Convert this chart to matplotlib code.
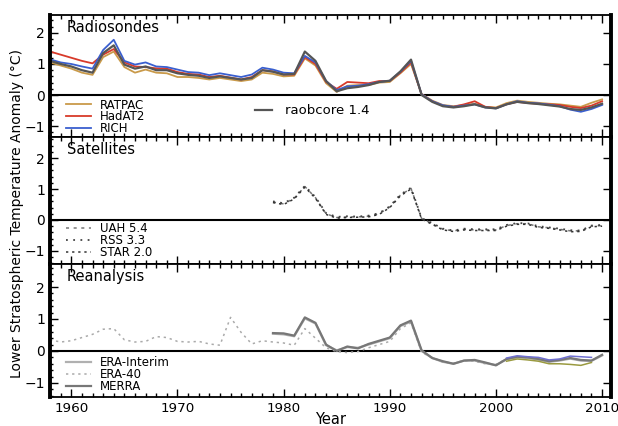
import numpy as np
import matplotlib
matplotlib.use("Agg")
import matplotlib.pyplot as plt
from matplotlib.ticker import MultipleLocator

plt.rcParams['font.family'] = ['DejaVu Sans']

# ---- data (annual anomalies, deg C) ----
years_rs = list(range(1958, 2011))
rich = [1.15, 1.05, 1.00, 0.92, 0.85, 1.45, 1.78, 1.10, 0.98, 1.05, 0.92, 0.90, 0.82,
        0.74, 0.72, 0.64, 0.70, 0.64, 0.58, 0.66, 0.88, 0.82, 0.72, 0.70, 1.26, 1.05,
        0.45, 0.16, 0.28, 0.30, 0.35, 0.42, 0.46, 0.75, 1.10, 0.02, -0.20, -0.33, -0.38,
        -0.34, -0.30, -0.40, -0.43, -0.30, -0.20, -0.25, -0.27, -0.31, -0.36, -0.47,
        -0.54, -0.45, -0.32]
hadat2 = [1.40, 1.30, 1.20, 1.10, 1.02, 1.30, 1.48, 1.05, 0.92, 0.90, 0.86, 0.85, 0.74,
          0.68, 0.66, 0.58, 0.62, 0.56, 0.50, 0.58, 0.80, 0.76, 0.66, 0.66, 1.22, 1.00,
          0.42, 0.20, 0.42, 0.40, 0.38, 0.45, 0.45, 0.72, 1.05, 0.02, -0.20, -0.34, -0.38,
          -0.30, -0.20, -0.38, -0.42, -0.30, -0.22, -0.26, -0.28, -0.30, -0.32, -0.38,
          -0.42, -0.34, -0.20]
ratpac = [1.05, 0.95, 0.85, 0.72, 0.65, 1.22, 1.40, 0.90, 0.72, 0.82, 0.72, 0.70, 0.58,
          0.58, 0.55, 0.50, 0.55, 0.50, 0.45, 0.50, 0.72, 0.68, 0.60, 0.62, 1.18, 0.95,
          0.38, 0.10, 0.30, 0.32, 0.32, 0.40, 0.42, 0.70, 1.00, 0.03, -0.18, -0.32, -0.36,
          -0.32, -0.28, -0.38, -0.40, -0.26, -0.18, -0.22, -0.25, -0.28, -0.30, -0.34,
          -0.38, -0.25, -0.14]
raobcore = [1.10, 1.00, 0.92, 0.80, 0.72, 1.35, 1.60, 0.98, 0.85, 0.92, 0.80, 0.80, 0.70,
            0.65, 0.62, 0.55, 0.60, 0.55, 0.50, 0.55, 0.80, 0.75, 0.66, 0.68, 1.40, 1.10,
            0.45, 0.12, 0.22, 0.26, 0.32, 0.42, 0.46, 0.76, 1.14, 0.00, -0.22, -0.36, -0.40,
            -0.36, -0.30, -0.40, -0.43, -0.30, -0.22, -0.26, -0.29, -0.33, -0.37, -0.45,
            -0.48, -0.40, -0.28]

years_sat = list(range(1979, 2011))
uah = [0.58, 0.52, 0.70, 1.08, 0.72, 0.20, 0.08, 0.10, 0.10, 0.12, 0.20, 0.42, 0.80, 1.02,
       0.05, -0.12, -0.30, -0.35, -0.30, -0.32, -0.32, -0.32, -0.18, -0.12, -0.12, -0.22,
       -0.25, -0.30, -0.35, -0.35, -0.20, -0.18]
rss = [0.60, 0.54, 0.72, 1.10, 0.74, 0.22, 0.10, 0.12, 0.11, 0.14, 0.22, 0.44, 0.82, 1.04,
       0.06, -0.10, -0.28, -0.34, -0.28, -0.30, -0.30, -0.30, -0.16, -0.10, -0.11, -0.20,
       -0.24, -0.28, -0.33, -0.34, -0.18, -0.16]
star = [0.56, 0.50, 0.68, 1.06, 0.70, 0.18, 0.06, 0.08, 0.09, 0.10, 0.18, 0.40, 0.78, 1.00,
        0.03, -0.14, -0.32, -0.37, -0.32, -0.34, -0.34, -0.34, -0.20, -0.14, -0.14, -0.24,
        -0.27, -0.32, -0.38, -0.37, -0.22, -0.20]

years_era40 = list(range(1958, 2002))
era40 = [0.35, 0.28, 0.32, 0.42, 0.52, 0.68, 0.70, 0.35, 0.28, 0.30, 0.45, 0.42, 0.30,
         0.28, 0.30, 0.22, 0.18, 1.05, 0.58, 0.22, 0.32, 0.28, 0.25, 0.18, 0.70, 0.40,
         0.10, -0.02, -0.05, -0.02, 0.10, 0.20, 0.30, 0.70, 0.88, -0.05, -0.20, -0.35,
         -0.38, -0.30, -0.32, -0.40, -0.42, -0.25]
years_rean = list(range(1979, 2011))
merra = [0.56, 0.55, 0.48, 1.05, 0.88, 0.20, 0.00, 0.14, 0.08, 0.22, 0.32, 0.42, 0.80,
         0.95, 0.02, -0.22, -0.32, -0.40, -0.30, -0.28, -0.36, -0.45, -0.25, -0.18, -0.20,
         -0.25, -0.32, -0.28, -0.22, -0.28, -0.30, -0.12]
era_interim = [0.54, 0.52, 0.46, 1.02, 0.86, 0.18, 0.02, 0.12, 0.10, 0.20, 0.30, 0.40,
               0.78, 0.92, 0.00, -0.22, -0.34, -0.40, -0.30, -0.30, -0.38, -0.44, -0.26,
               -0.20, -0.22, -0.27, -0.34, -0.30, -0.24, -0.30, -0.31, -0.14]
years_extra = list(range(2001, 2010))
extra_blue = [-0.22, -0.15, -0.18, -0.20, -0.28, -0.25, -0.16, -0.18, -0.20]
extra_olive = [-0.32, -0.25, -0.28, -0.32, -0.40, -0.40, -0.42, -0.45, -0.36]

fig = plt.figure(figsize=(6.18, 4.26), dpi=100)
axes = fig.subplots(3, 1, sharex=True, gridspec_kw={'height_ratios': [122, 127, 133]})
fig.subplots_adjust(left=0.081, right=0.988, top=0.965, bottom=0.068, hspace=0)

ax1, ax2, ax3 = axes
ylims = [(-1.35, 2.58), (-1.42, 2.68), (-1.44, 2.72)]
leg_tops = [0.315, 0.33, 0.305]


def small_legend(ax, handles, top):
    return ax.legend(handles=handles, loc='upper left', bbox_to_anchor=(0.028, top),
                     frameon=False, fontsize=8.5, labelspacing=-0.1, handlelength=2.1,
                     handletextpad=0.8, borderpad=0, borderaxespad=0)


# radiosondes
ax1.plot(years_rs, ratpac, color='#c99a4a', lw=1.3, label='RATPAC')
ax1.plot(years_rs, hadat2, color='#d83a2a', lw=1.3, label='HadAT2')
ax1.plot(years_rs, rich, color='#3a5fcf', lw=1.3, label='RICH')
l_raob, = ax1.plot(years_rs, raobcore, color='#555555', lw=1.6, label='raobcore 1.4')
leg = small_legend(ax1, ax1.lines[:3], leg_tops[0])
ax1.add_artist(leg)
ax1.legend(handles=[l_raob], loc='center left', bbox_to_anchor=(0.365, 0.215), frameon=False,
           fontsize=9.5, handlelength=1.3, handletextpad=1.0, borderpad=0, borderaxespad=0)

# satellites
ax2.plot(years_sat, uah, color='#777777', lw=1.1, ls=(0, (2, 3)), label='UAH 5.4')
ax2.plot(years_sat, rss, color='#444444', lw=1.3, ls=(0, (1, 3)), label='RSS 3.3')
ax2.plot(years_sat, star, color='#333333', lw=1.1, ls=(0, (1.5, 2.5)), label='STAR 2.0')
small_legend(ax2, ax2.lines[:3], leg_tops[1])

# reanalysis
ax3.plot(years_rean, era_interim, color='#b0b0b0', lw=1.6, label='ERA-Interim')
ax3.plot(years_era40, era40, color='#aaaaaa', lw=1.1, ls=(0, (1.5, 2.5)), label='ERA-40')
ax3.plot(years_rean, merra, color='#777777', lw=1.6, label='MERRA')
ax3.plot(years_extra, extra_blue, color='#6f6fd0', lw=1.1)
ax3.plot(years_extra, extra_olive, color='#9a9a40', lw=1.1)
small_legend(ax3, ax3.lines[:3], leg_tops[2])

for ax, title, yl in zip(axes, ['Radiosondes', 'Satellites', 'Reanalysis'], ylims):
    ax.axhline(0, color='black', lw=1.5, zorder=1)
    ax.text(0.03, 1 - 13.0 / (ax.bbox.height if ax.bbox.height else 127), title,
            transform=ax.transAxes, fontsize=10.5, va='center')
    ax.set_xlim(1958, 2010.8)
    ax.set_ylim(*yl)
    ax.set_yticks([-1, 0, 1, 2])
    ax.yaxis.set_minor_locator(MultipleLocator(0.2))
    ax.xaxis.set_major_locator(MultipleLocator(10))
    ax.xaxis.set_minor_locator(MultipleLocator(1))
    ax.tick_params(which='both', direction='in', top=True, right=True, labelsize=10,
                   width=1.0)
    ax.tick_params(which='major', length=6)
    ax.tick_params(which='minor', length=3)
    ax.tick_params(axis='y', which='minor', length=2, right=False)
    for side in ['left', 'right']:
        ax.spines[side].set_linewidth(2.8)
    for side in ['top', 'bottom']:
        ax.spines[side].set_linewidth(1.3)

ax3.tick_params(axis='x', labelsize=9.7)
ax3.set_xlabel('Year', fontsize=10.5, labelpad=-2)
fig.text(0.027, 0.5, 'Lower Stratospheric Temperature Anomaly (\u00b0C)', rotation=90,
         va='center', ha='center', fontsize=10)

fig.savefig('out.png', dpi=100)
